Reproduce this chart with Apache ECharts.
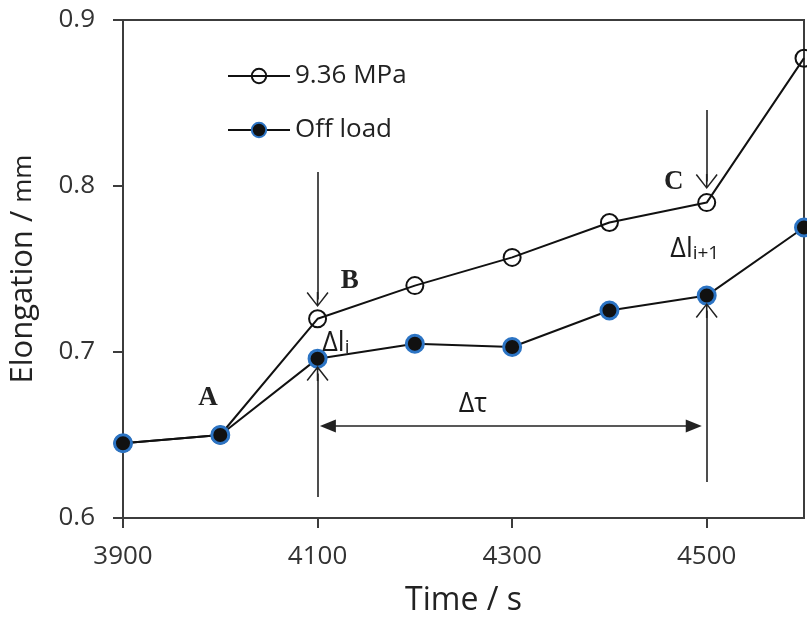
<!DOCTYPE html>
<html>
<head>
<meta charset="utf-8">
<script src="https://cdn.jsdelivr.net/npm/echarts@6/dist/echarts.min.js"></script>
<style>
  html, body { margin: 0; padding: 0; background: #fff; }
  #chart { width: 807px; height: 619px; }
</style>
</head>
<body>
<div id="chart"></div>
<script>
// Elongation of the specimen over time, under load and after unloading
const times = [3900, 4000, 4100, 4200, 4300, 4400, 4500, 4600];
const loaded = [0.645, 0.650, 0.720, 0.740, 0.757, 0.778, 0.790, 0.877];
const offLoad = [0.645, 0.650, 0.696, 0.705, 0.703, 0.725, 0.734, 0.775];
const seriesNames = ['9.36 MPa', 'Off load'];
const xTicks = [3900, 4100, 4300, 4500];
const yTicks = [0.6, 0.7, 0.8, 0.9];

const FONT = '"Open Sans", "Liberation Sans", sans-serif';
const SERIF = '"Liberation Serif", "DejaVu Serif", serif';
const INK = '#222';
const AXIS = '#3c3c3c';

const pairs = (xs, ys) => xs.map((x, i) => [x, ys[i]]);

// open V arrow head with a short stem so the shaft reaches the tip
const vHead = 'path://M11,0 L22,14 L20.8,15 L11.8,3.3 L11.8,15 L10.2,15 L10.2,3.3 L1.2,15 L0,14 Z';

function vArrow(x, yFrom, yTo) {
  return [
    { coord: [x, yFrom], symbol: 'none' },
    { coord: [x, yTo], symbol: vHead, symbolSize: [22, 15] }
  ];
}

// rich styles for the Δ annotations (main glyphs plus subscript)
const deltaRich = {
  m: { fontFamily: FONT, fontSize: 27, color: '#1a1a1a', verticalAlign: 'bottom', lineHeight: 32 },
  s: { fontFamily: FONT, fontSize: 19, color: '#1a1a1a', verticalAlign: 'bottom', lineHeight: 25 }
};

function letter(x, y, text) {
  return {
    coord: [x, y],
    label: { show: true, position: 'inside', formatter: text, fontFamily: SERIF, fontWeight: 'bold', fontSize: 27, color: INK }
  };
}

function delta(x, y, text) {
  return {
    coord: [x, y],
    label: { show: true, position: 'inside', formatter: text, rich: deltaRich }
  };
}

const chart = echarts.init(document.getElementById('chart'), null, { renderer: 'canvas' });

chart.setOption({
  animation: false,
  backgroundColor: '#fff',
  textStyle: { fontFamily: FONT, color: INK },
  grid: {
    left: 123, right: 3, top: 20, bottom: 101,
    show: true, borderColor: AXIS, borderWidth: 2,
    outerBoundsMode: 'none'
  },
  legend: {
    orient: 'vertical',
    left: 222, top: 56,
    itemWidth: 62, itemHeight: 18,
    itemGap: 24,
    data: seriesNames,
    textStyle: { fontFamily: FONT, fontSize: 26, color: INK, lineHeight: 30 }
  },
  xAxis: {
    type: 'value',
    min: 3900, max: 4600,
    name: 'Time / s',
    nameLocation: 'middle',
    nameGap: 67,
    nameTextStyle: { fontFamily: FONT, fontSize: 32, color: INK },
    axisLine: { show: true, lineStyle: { color: AXIS, width: 2 } },
    axisTick: { show: true, inside: false, length: 10, customValues: xTicks, lineStyle: { color: AXIS, width: 2 } },
    axisLabel: {
      customValues: xTicks, margin: 26,
      fontFamily: FONT, fontSize: 26, color: '#333',
      formatter: v => String(v)
    },
    splitLine: { show: false }
  },
  yAxis: {
    type: 'value',
    min: 0.6, max: 0.9,
    name: '{a|Elongation /}{b|mm}',
    nameLocation: 'middle',
    nameGap: 84,
    nameTextStyle: {
      rich: {
        a: { fontFamily: FONT, fontSize: 31, color: INK },
        b: { fontFamily: FONT, fontSize: 26, color: INK, padding: [0, 0, 0, 8] }
      }
    },
    axisLine: { show: true, lineStyle: { color: AXIS, width: 2 } },
    axisTick: { show: true, inside: false, length: 10, customValues: yTicks, lineStyle: { color: AXIS, width: 2 } },
    axisLabel: {
      customValues: yTicks,
      margin: 28,
      fontFamily: FONT, fontSize: 26, color: '#333',
      formatter: v => v.toFixed(1)
    },
    splitLine: { show: false }
  },
  series: [
    {
      name: seriesNames[0],
      type: 'line',
      data: pairs(times, loaded),
      symbol: 'circle',
      symbolSize: 17,
      showAllSymbol: true,
      lineStyle: { color: '#111', width: 2 },
      itemStyle: { color: 'rgba(255,255,255,0)', borderColor: '#111', borderWidth: 2 },
      z: 3
    },
    {
      name: seriesNames[1],
      type: 'line',
      data: pairs(times, offLoad),
      symbol: 'circle',
      symbolSize: 17,
      showAllSymbol: true,
      lineStyle: { color: '#111', width: 2 },
      itemStyle: { color: '#111', borderColor: '#2c74c4', borderWidth: 3 },
      z: 4
    },
    {
      // annotation layer: arrows and labels placed in data coordinates
      name: 'notes',
      type: 'line',
      data: [],
      silent: true,
      z: 5,
      markLine: {
        silent: true,
        animation: false,
        label: { show: false },
        lineStyle: { color: INK, width: 1.6, type: 'solid' },
        emphasis: { disabled: true },
        data: [
          vArrow(4100, 0.8084, 0.7316),
          vArrow(4500, 0.8458, 0.8027),
          vArrow(4100, 0.6127, 0.6870),
          vArrow(4500, 0.6217, 0.7250),
          [
            { coord: [4110.6, 0.6554], symbol: 'triangle', symbolSize: [13, 16] },
            { coord: [4486.7, 0.6554], symbol: 'triangle', symbolSize: [13, 16] }
          ]
        ]
      },
      markPoint: {
        silent: true,
        animation: false,
        symbol: 'rect',
        symbolSize: 1,
        itemStyle: { color: 'rgba(0,0,0,0)' },
        data: [
          letter(3987.3, 0.6723, 'A'),
          letter(4133.2, 0.7428, 'B'),
          letter(4466.0, 0.8024, 'C'),
          delta(4118.8, 0.7066, '{m|Δl}{s|i}'),
          delta(4487.7, 0.7633, '{m|Δl}{s|i+1}'),
          delta(4259.6, 0.6699, '{m|Δτ}')
        ]
      }
    }
  ]
});
</script>
</body>
</html>
